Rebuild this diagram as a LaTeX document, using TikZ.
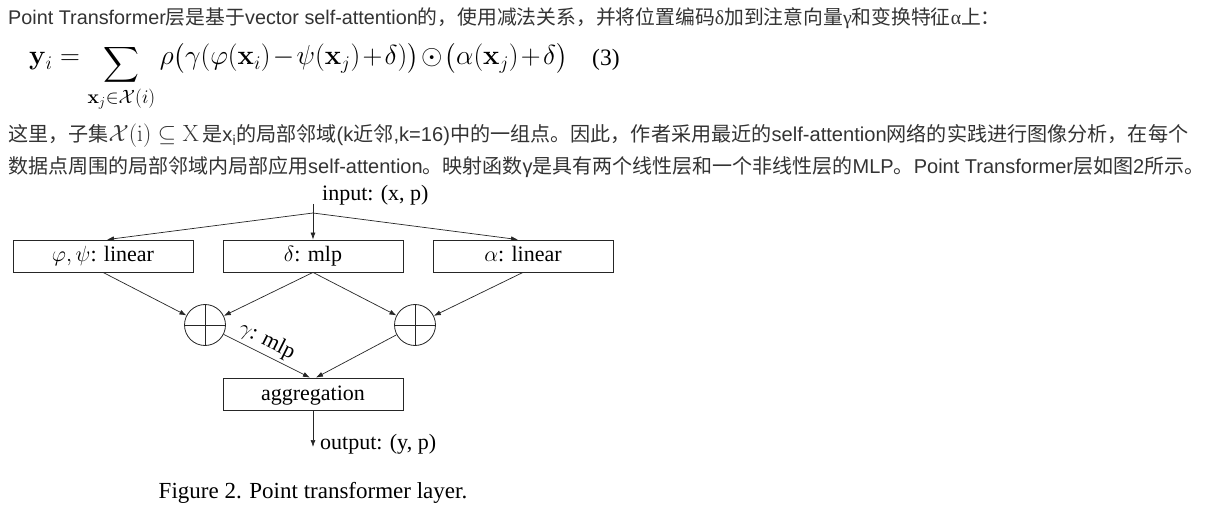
\RequirePackage{fix-cm}
\documentclass[tikz,border=0pt]{standalone}
\usepackage{amsmath}
\usepackage[no-math]{fontspec}
\setmainfont{Liberation Serif}
\newfontfamily\cnfont{Noto Sans CJK SC}
\newfontfamily\arialfont{Liberation Sans}
\usetikzlibrary{arrows.meta}
\newcommand{\zh}[1]{{\cnfont #1}}
\newcommand{\tms}[1]{{\rmfamily #1}}
\newcommand{\bigsum}{\mathop{\raisebox{-6pt}{\fontsize{23.5}{26}\selectfont$\displaystyle\sum$}}\limits}
\tikzset{
  pageline/.style={anchor=base west, inner sep=0pt, text=black!80,
    font=\arialfont\fontsize{20}{24}\selectfont},
  blk/.style={draw=black!85, line width=0.8pt, minimum width=180pt, minimum height=32pt,
    inner sep=0pt, text height=14pt, text depth=2pt, font=\fontsize{22}{26}\selectfont},
  lbl/.style={inner sep=0pt, font=\fontsize{22}{26}\selectfont},
  arr/.style={-{Latex[length=7pt,width=5pt]}, line width=0.7pt, draw=black!85},
  plus/.style={circle, draw=black!85, line width=0.8pt, minimum size=41pt, inner sep=0pt,
    path picture={\draw[line width=0.8pt, black!85]
      (path picture bounding box.north) -- (path picture bounding box.south)
      (path picture bounding box.west) -- (path picture bounding box.east);}}
}
\begin{document}
\begin{tikzpicture}[x=1pt,y=-1pt]
\useasboundingbox[fill=white] (0,0) rectangle (1209,510);

% page text
\node[pageline, font=\arialfont\fontsize{19.8}{24}\selectfont] (l1) at (8,25) {Point Transformer\zh{层是基于}vector self-attention\zh{的，使用减法关系，并将位置编码}\tms{δ}\zh{加到注意向量}\tms{γ}\zh{和变换特征}\tms{α}\zh{上：}};

\node[anchor=base west, inner sep=0pt, font=\fontsize{27.5}{30}\selectfont] (eq) at (29,65)
  {\medmuskip=1.5mu $\displaystyle \mathbf{y}_i=\bigsum_{\mathbf{x}_j\in\mathcal{X}(i)}\rho\bigl(\gamma(\varphi(\mathbf{x}_i)-\psi(\mathbf{x}_j)+\delta)\bigr)\odot\bigl(\alpha(\mathbf{x}_j)+\delta\bigr)$};
\node[anchor=base west, inner sep=0pt, font=\fontsize{23.5}{28}\selectfont] (eqn) at (592,66) {(3)};

\node[pageline, font=\arialfont\fontsize{20.1}{24}\selectfont] (l3) at (8,142) {\zh{这里，子集}{\fontsize{23.5}{24}\selectfont$\mathcal{X}(\mathrm{i})\subseteq\mathrm{X}$}\,\zh{是}x\textsubscript{i}\zh{的局部邻域}(k\zh{近邻},k=16)\zh{中的一组点。因此，作者采用最近的}self-attention\zh{网络的实践进行图像分析，在每个}};
\node[pageline] (l4) at (8,174) {\zh{数据点周围的局部邻域内局部应用}self-attention\zh{。映射函数}γ\zh{是具有两个线性层和一个非线性层的}MLP\zh{。}Point Transformer\zh{层如图}2\zh{所示。}};

% diagram
\node[lbl, anchor=west] (in) at (322,195) {input: (x, p)};
\coordinate (top) at (313,204);
\coordinate (split) at (313,213);
\node[blk] (phi) at (103,256) {$\varphi,\psi$: linear};
\node[blk] (del) at (313,256) {$\delta$: mlp};
\node[blk] (alp) at (523,256) {$\alpha$: linear};
\node[plus] (p1) at (205,325) {};
\node[plus] (p2) at (415,325) {};
\node[blk] (agg) at (313,394) {aggregation};
\coordinate (out) at (313,447);
\node[lbl, anchor=west] (outl) at (320,444) {output: (y, p)};
\node[inner sep=0pt, font=\fontsize{23}{27}\selectfont] (cap) at (313,493) {Figure 2. Point transformer layer.};

\draw[arr] (top) -- (del.north);
\draw[arr] (split) -- ([xshift=4pt]phi.north);
\draw[arr] (split) -- ([xshift=-5pt]alp.north);
\draw[arr] (phi.south) -- (p1);
\draw[arr] (del.south) -- (p1);
\draw[arr] (del.south) -- (p2);
\draw[arr] (alp.south) -- (p2);
\draw[arr] (p1) -- node[sloped, above, pos=0.43, inner sep=3pt, font=\fontsize{22}{26}\selectfont] {$\gamma$: mlp} ([xshift=-3pt]agg.north);
\draw[arr] (p2) -- ([xshift=3pt]agg.north);
\draw[arr] (agg.south) -- (out);
\end{tikzpicture}
\end{document}
